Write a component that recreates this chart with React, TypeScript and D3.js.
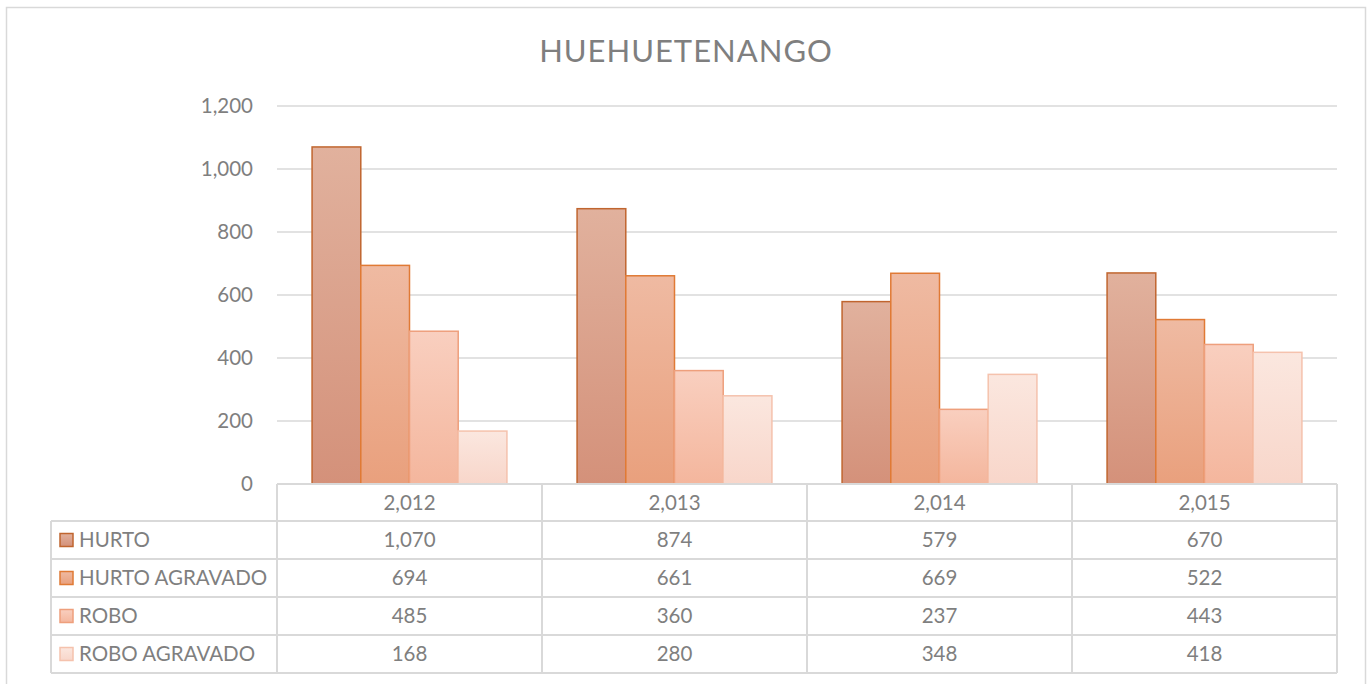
import * as d3 from "d3";
import { useEffect, useRef } from "react";

const years = ["2,012", "2,013", "2,014", "2,015"];
const seriesNames = ["HURTO", "HURTO AGRAVADO", "ROBO", "ROBO AGRAVADO"];
const hurto = [1070, 874, 579, 670];
const hurtoAgravado = [694, 661, 669, 522];
const robo = [485, 360, 237, 443];
const roboAgravado = [168, 280, 348, 418];
const yTicks = [0, 200, 400, 600, 800, 1000, 1200];

// fill top, fill bottom, stroke
const palette = [
    ["#e1b19d", "#d4917a", "#c0652f"],
    ["#efbaa2", "#e9a07d", "#e07a35"],
    ["#f9cfbf", "#f4b69d", "#ee9f7c"],
    ["#fbe7df", "#f8d6ca", "#f5c2ad"],
];

export default function App() {
    const ref = useRef<SVGSVGElement>(null);

    useEffect(() => {
        const svg = d3.select(ref.current);
        svg.selectAll("*").remove();

        const allSeries = [hurto, hurtoAgravado, robo, roboAgravado];
        const font = "Lato, 'Open Sans', sans-serif";
        const textColor = "#7f7f7f";
        const gridColor = "#d9d9d9";

        const left = 277, right = 1337, top = 106, bottom = 484;
        const rowH = 38;
        const fs = 20.5;

        // chart border
        svg.append("rect")
            .attr("x", 6.5).attr("y", 7.5)
            .attr("width", 1359).attr("height", 690)
            .attr("fill", "white").attr("stroke", gridColor).attr("stroke-width", 1.5);

        const defs = svg.append("defs");
        palette.forEach((c, i) => {
            const g = defs.append("linearGradient").attr("id", "grad" + i)
                .attr("x1", 0).attr("y1", 0).attr("x2", 0).attr("y2", 1);
            g.append("stop").attr("offset", "0%").attr("stop-color", c[0]);
            g.append("stop").attr("offset", "100%").attr("stop-color", c[1]);
        });

        svg.append("text").text("HUEHUETENANGO")
            .attr("x", 686).attr("y", 62)
            .attr("text-anchor", "middle")
            .attr("font-family", font).attr("font-size", 31)
            .attr("letter-spacing", 1)
            .attr("fill", textColor);

        const X = d3.scaleBand().domain(years).range([left, right]).paddingInner(0).paddingOuter(0);
        const inner = d3.scaleBand().domain(seriesNames)
            .range([0, X.bandwidth()]).paddingInner(0).paddingOuter(0.72);
        const Y = d3.scaleLinear().domain([0, 1200]).range([bottom, top]);

        // gridlines
        svg.append("g").selectAll("line").data(yTicks).join("line")
            .attr("x1", left).attr("x2", right)
            .attr("y1", (d) => Y(d)).attr("y2", (d) => Y(d))
            .attr("stroke", gridColor).attr("stroke-width", 1.3);

        // y axis
        const yAxis = svg.append("g")
            .attr("transform", `translate(${left - 24},0)`)
            .call(d3.axisLeft(Y).tickValues(yTicks).tickSize(0).tickPadding(0).tickFormat(d3.format(",")));
        yAxis.select(".domain").remove();
        yAxis.selectAll("text")
            .attr("font-family", font).attr("font-size", fs)
            .attr("fill", textColor);

        // bars
        allSeries.forEach((vals, si) => {
            svg.append("g").selectAll("rect").data(vals).join("rect")
                .attr("x", (d, i) => (X(years[i]) as number) + (inner(seriesNames[si]) as number))
                .attr("y", (d) => Y(d))
                .attr("width", inner.bandwidth())
                .attr("height", (d) => bottom - Y(d))
                .attr("fill", `url(#grad${si})`)
                .attr("stroke", palette[si][2])
                .attr("stroke-width", 1.5);
        });

        // data table
        const tbl = svg.append("g");
        const tableLeft = 51;
        const lineAttrs = (sel: any) => sel.attr("stroke", gridColor).attr("stroke-width", 2).attr("fill", "none");

        tbl.append("line").attr("x1", left).attr("x2", right).attr("y1", bottom).attr("y2", bottom).call(lineAttrs);
        for (let r = 0; r <= 4; r++) {
            const y = bottom + rowH * (r + 1) - 1;
            tbl.append("line").attr("x1", tableLeft).attr("x2", right).attr("y1", y).attr("y2", y).call(lineAttrs);
        }
        tbl.append("line").attr("x1", tableLeft).attr("x2", tableLeft)
            .attr("y1", bottom + rowH - 1).attr("y2", bottom + rowH * 5 - 1).call(lineAttrs);
        [...years.map((y) => X(y) as number), right].forEach((x) => {
            tbl.append("line").attr("x1", x).attr("x2", x)
                .attr("y1", bottom).attr("y2", bottom + rowH * 5 - 1).call(lineAttrs);
        });

        tbl.selectAll("text.year").data(years).join("text")
            .attr("class", "year")
            .attr("x", (d) => (X(d) as number) + X.bandwidth() / 2)
            .attr("y", bottom + rowH / 2 + 7)
            .attr("text-anchor", "middle")
            .attr("font-family", font).attr("font-size", fs)
            .attr("fill", textColor)
            .text((d) => d);

        allSeries.forEach((vals, si) => {
            const cy = bottom + rowH * (si + 1) + rowH / 2 - 1;
            tbl.append("rect")
                .attr("x", 60).attr("y", cy - 6.5)
                .attr("width", 13).attr("height", 13)
                .attr("fill", `url(#grad${si})`)
                .attr("stroke", palette[si][2]).attr("stroke-width", 1.5);
            tbl.append("text").text(seriesNames[si])
                .attr("x", 79).attr("y", cy + 7)
                .attr("font-family", font).attr("font-size", fs)
                .attr("fill", textColor);
            tbl.append("g").selectAll("text").data(vals).join("text")
                .attr("x", (d, i) => (X(years[i]) as number) + X.bandwidth() / 2)
                .attr("y", cy + 7)
                .attr("text-anchor", "middle")
                .attr("font-family", font).attr("font-size", fs)
                .attr("fill", textColor)
                .text((d) => d3.format(",")(d));
        });
    }, []);

    return (
        <svg ref={ref} width={1367} height={684}
            style={{ position: "absolute", left: 0, top: 0, display: "block" }} />
    );
}
